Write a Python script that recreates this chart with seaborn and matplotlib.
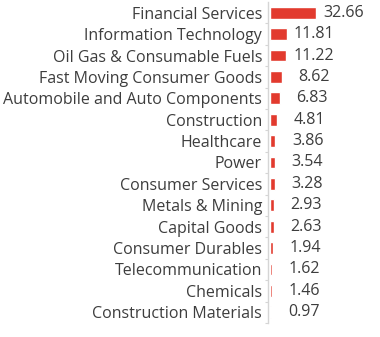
import matplotlib
matplotlib.use("Agg")
import matplotlib.pyplot as plt
import seaborn as sns
import pandas as pd
import numpy as np

sectors = ["Financial Services", "Information Technology", "Oil Gas & Consumable Fuels",
           "Fast Moving Consumer Goods", "Automobile and Auto Components", "Construction",
           "Healthcare", "Power", "Consumer Services", "Metals & Mining", "Capital Goods",
           "Consumer Durables", "Telecommunication", "Chemicals", "Construction Materials"]
weights = [32.66, 11.81, 11.22, 8.62, 6.83, 4.81, 3.86, 3.54, 3.28, 2.93, 2.63,
           1.94, 1.62, 1.46, 0.97]
value_labels = ["32.66", "11.81", "11.22", "8.62", "6.83", "4.81", "3.86", "3.54", "3.28",
                "2.93", "2.63", "1.94", "1.62", "1.46", "0.97"]

df = pd.DataFrame({"sector": sectors, "weight": weights})

sns.set_theme(style="white")
plt.rcParams['font.family'] = ['Open Sans', 'DejaVu Sans']

W, H = 380, 337
fig = plt.figure(figsize=(W / 100, H / 100), dpi=100)
ax = fig.add_axes([268 / W, (H - 323) / H, (W - 268) / W, 321 / H])

sns.barplot(data=df, x="weight", y="sector", orient="h", color="#e23a2e",
            saturation=1, width=0.56, ax=ax)

text_color = "#3d3d3d"
for i, (v, lab) in enumerate(zip(weights, value_labels)):
    ax.annotate(lab, xy=(v, i), xytext=(34.6, 0), textcoords="offset points",
                ha="right", va="center", fontsize=11.5, color=text_color)

ax.set_xlim(-1.4, 78.1)
ax.set_ylim(len(sectors) - 0.5, -0.5)
ax.set_xlabel("")
ax.set_ylabel("")
ax.set_xticks([])
ax.set_yticks(np.arange(len(sectors)) + 0.5, minor=True)
ax.tick_params(axis="y", which="major", length=0, pad=4.3, labelsize=11.5, labelcolor=text_color)
ax.tick_params(axis="y", which="minor", length=2.5, width=0.8, color="#d5d5d5", direction="out", left=True)
for s in ["top", "right", "bottom"]:
    ax.spines[s].set_visible(False)
ax.spines["left"].set_color("#d5d5d5")
ax.spines["left"].set_linewidth(1)

fig.savefig("out.png", dpi=100)
